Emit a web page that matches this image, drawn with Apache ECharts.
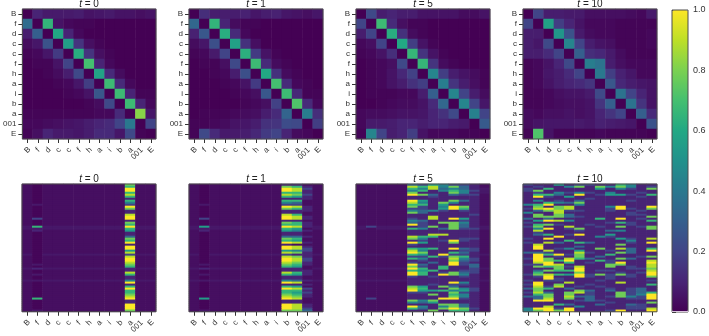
<!DOCTYPE html>
<html>
<head>
<meta charset="utf-8">
<style>
  html, body { margin: 0; padding: 0; background: #fff; }
  #chart { width: 709px; height: 336px; }
</style>
<script src="https://cdn.jsdelivr.net/npm/echarts@6/dist/echarts.min.js"></script>
</head>
<body>
<div id="chart"></div>
<script>
const tokens = ['B', 'f', 'd', 'c', 'c', 'f', 'h', 'a', 'i', 'b', 'a', '001', 'E']
const stepLabels = ['0', '1', '5', '10']
const colorbarTicks = [0, 0.2, 0.4, 0.6, 0.8, 1]
const viridis = ['#440154', '#482475', '#414487', '#355f8d', '#2a788e', '#21918c', '#22a884', '#44bf70', '#7ad151', '#bddf26', '#fde725']

// top row, one array per token row
const tokenT0 = [
  [0, .1, .07, .07, .07, .08, .05, .06, .07, .05, .05, .04, .05],
  [.35, 0, .65, .05, .02, .01, .01, 0, 0, 0, 0, 0, 0],
  [.08, .3, 0, .6, .1, .02, 0, 0, 0, 0, 0, 0, 0],
  [.03, .06, .25, 0, .55, .15, .04, .01, 0, 0, 0, 0, 0],
  [.01, .02, .06, .17, 0, .62, .15, .04, .01, 0, 0, 0, 0],
  [0, .01, .01, .05, .2, 0, .7, .1, .02, 0, 0, 0, 0],
  [0, 0, .01, .03, .08, .22, 0, .58, .12, .03, 0, 0, 0],
  [0, 0, 0, .01, .02, .06, .18, 0, .68, .12, .02, 0, 0],
  [0, 0, 0, 0, .01, .02, .05, .27, 0, .68, .1, .01, .01],
  [0, 0, 0, 0, 0, 0, .01, .03, .22, 0, .68, .1, .02],
  [.01, .01, .01, .01, .01, .01, .01, .02, .02, .12, 0, .82, .06],
  [.02, .02, .03, .04, .05, .06, .08, .1, .12, .2, .4, 0, .2],
  [.01, .04, .1, .07, .07, .06, .08, .12, .12, .06, .22, .01, 0],
]
const tokenT1 = [
  [0, .13, .08, .08, .08, .09, .06, .08, .09, .06, .05, .04, .06],
  [.33, 0, .65, .1, .03, .01, .01, 0, 0, 0, 0, 0, 0],
  [.09, .27, 0, .62, .12, .02, 0, 0, 0, 0, 0, 0, 0],
  [.03, .06, .24, 0, .57, .14, .04, 0, 0, 0, 0, 0, 0],
  [.01, .02, .07, .2, 0, .63, .17, .05, .01, 0, 0, 0, 0],
  [0, .01, .01, .04, .22, 0, .68, .12, .03, .01, 0, 0, 0],
  [0, 0, .01, .02, .08, .24, 0, .6, .14, .03, .01, 0, 0],
  [0, 0, 0, .01, .02, .05, .17, 0, .7, .12, .02, .01, 0],
  [0, 0, 0, 0, .01, .02, .04, .27, 0, .68, .11, .01, .01],
  [0, 0, 0, 0, 0, .01, .02, .04, .19, 0, .72, .12, .02],
  [0, .01, .01, .01, .02, .03, .04, .08, .12, .32, 0, .42, .13],
  [.01, .01, .02, .03, .05, .06, .08, .14, .15, .23, .22, 0, .18],
  [.01, .22, .12, .07, .07, .08, .11, .17, .2, .1, .03, .02, 0],
]
const tokenT5 = [
  [0, .22, .08, .1, .08, .08, .05, .05, .05, .05, .03, .03, .05],
  [.2, 0, .68, .12, .04, .01, .01, 0, 0, 0, 0, 0, 0],
  [.08, .2, 0, .62, .14, .03, .01, 0, 0, 0, 0, 0, 0],
  [.02, .04, .2, 0, .6, .18, .05, .01, 0, 0, 0, 0, 0],
  [.01, .02, .05, .13, 0, .66, .15, .05, .01, 0, 0, 0, 0],
  [0, .01, .02, .04, .22, 0, .66, .15, .03, .01, 0, 0, 0],
  [0, .01, .02, .05, .11, .19, 0, .45, .18, .08, .05, .03, .01],
  [0, .01, .02, .05, .08, .14, .18, 0, .42, .15, .08, .04, .01],
  [0, .01, .01, .01, .02, .02, .08, .3, 0, .45, .2, .08, .03],
  [0, 0, .01, .02, .03, .03, .05, .12, .33, 0, .45, .2, .06],
  [.02, .03, .03, .04, .05, .05, .06, .1, .14, .22, 0, .43, .2],
  [.02, .07, .07, .08, .1, .1, .08, .1, .1, .08, .07, 0, .28],
  [.01, .45, .2, .08, .1, .18, .05, .02, .02, .02, .01, .01, 0],
]
const tokenT10 = [
  [0, .2, .08, .08, .07, .07, .04, .04, .04, .04, .03, .02, .07],
  [.2, 0, .57, .18, .1, .05, .02, .02, .02, .01, .01, .01, .01],
  [.08, .08, 0, .52, .25, .07, .03, .02, .02, .01, .01, .01, .02],
  [.08, .06, .22, 0, .45, .2, .08, .05, .04, .01, .01, .01, .02],
  [.08, .08, .12, .2, 0, .3, .13, .11, .07, .03, .01, .01, .01],
  [.01, .02, .05, .1, .22, 0, .42, .38, .08, .04, .02, .02, .02],
  [.01, .02, .06, .08, .12, .2, 0, .4, .18, .09, .06, .02, .02],
  [.01, .02, .05, .08, .1, .12, .15, 0, .27, .11, .08, .06, .05],
  [.01, .01, .02, .04, .05, .05, .07, .22, 0, .38, .2, .1, .05],
  [.01, .01, .02, .03, .04, .04, .05, .15, .3, 0, .38, .15, .05],
  [.03, .02, .04, .04, .05, .04, .05, .1, .15, .2, 0, .3, .12],
  [.03, .05, .06, .06, .06, .07, .06, .09, .08, .07, .06, 0, .25],
  [.01, .72, .05, .01, .01, .01, .01, .02, .01, .01, .01, .01, 0],
]

// bottom row: one string per token column, 64 rows read top to bottom in groups of 8,
// each digit is a colour level, see cellLevels
const cellLevels = { '-': .015, 0: .04, x: .065, 1: .1, 2: .2, 3: .33, 4: .44, 5: .55, 6: .66, 7: .78, 8: .89, 9: 1 }
const quiet = '00000000 00000000 00000xx0 00000000 000x0000 00x00000 x0000000 00000000'

const topicsT0 = [
  quiet,
  '-------- --x----- -2---6x1 -------- -------- x-1--x-- x------- -6-----x',
  quiet, quiet, quiet, quiet, quiet, quiet, quiet, quiet,
  '76996861 64297118 99176965 11376919 95828998 76118611 49169667 89119997',
  quiet, quiet,
]
const topicsT1 = [
  quiet,
  '-------- --x----- -2---5x1 -------- -------- x-1--x-- x------- -5-----x',
  quiet, quiet, quiet, quiet, quiet, quiet, quiet,
  '17996861 64297118 99176965 11376919 95828998 76118611 49169667 89119997',
  '16886751 63286116 88166854 11365808 84717887 65116511 38158656 78118887',
  '01211211 00011100 11011101 00100101 22111221 10011100 10102121 10001123',
  quiet,
]
const topicsT5 = [
  quiet,
  '00000000 00000000 00000200 00000000 000x0000 00x00000 x0000000 02000000',
  quiet, quiet, quiet,
  '38647911 98672471 12439161 11871921 68962612 97969921 11178921 11741961',
  '26461711 54622331 11322241 11642511 54752421 32656611 11156521 11431431',
  '58811321 11111411 88111711 18611111 61116113 11161121 11211517 11751117',
  '44341111 17545211 11171131 18112111 11192111 16612911 11171611 19117471',
  '27467311 74199111 19177771 11119711 91627879 91117711 19237476 79117796',
  '23344211 31176211 15243321 11122111 32326432 21123421 14214524 42113376',
  '11121211 11111112 11111121 11121111 22111221 33222111 11112211 11111121',
  '00xxx000 00000000 00000xx0 00000000 000x0000 00x00000 x0000000 00000000',
]
const topicsT10 = [
  '21221111 11412141 13121211 11121211 11311211 21111211 21213121 31111144',
  '12172691 41678317 71516748 23111189 91399998 27136721 19987786 33911197',
  '11611621 16919711 73917191 16191811 18261779 96171899 21126137 78911899',
  '51114311 24177887 71812111 11911311 21192161 87761612 21781111 11116127',
  '14112151 13188213 31411821 12116111 41121896 12161511 18113177 87113199',
  '27114911 37411211 21111172 19111613 15877611 18997991 11121781 31211411',
  '21112112 11111111 11112111 11111311 11211312 11111221 11211322 33311111',
  '17511211 11111111 16111211 11411111 71113161 11121711 21121111 11213111',
  '14114511 11142211 11121113 15211111 12161122 77121222 11112311 21121112',
  '67411511 11199111 19161714 11151171 81711719 71112711 18111177 71111119',
  '44211211 21112122 11122111 11124211 33311311 12211221 11112222 42113221',
  '11112121 11111212 12111211 11111111 11112111 11212111 11113334 22112221',
  '12711611 11197111 71611771 11181911 69117189 88789971 21611169 99171189',
]

const tokenMatrices = [tokenT0, tokenT1, tokenT5, tokenT10]
const topicMatrices = [topicsT0, topicsT1, topicsT5, topicsT10]

const panelLefts = [22, 189, 356, 523]
const panelWidth = 134
const font = "'Liberation Sans', Arial, sans-serif"

function tokenCells(matrix) {
  const cells = []
  matrix.forEach((row, y) => row.forEach((v, x) => cells.push([x, y, v])))
  return cells
}

function topicCells(columns) {
  const cells = []
  columns.forEach((col, x) => {
    col.replace(/ /g, '').split('').forEach((ch, y) => cells.push([x, y, cellLevels[ch]]))
  })
  return cells
}

const tokenLabel = {
  fontSize: 8,
  fontFamily: font,
  color: '#333',
  rotate: 45,
  align: 'center',
  verticalAlign: 'middle',
  margin: 11,
  interval: 0,
  formatter: (v) => (v.length > 1 ? `{long|${v}}` : v),
  rich: { long: { fontSize: 8, fontFamily: font, color: '#333', padding: [0, 10, 0, 0] } },
}

const grids = []
const xAxes = []
const yAxes = []
const series = []
const titles = []

function addPanel(left, top, height, cells, rowLabels, title) {
  const index = grids.length
  grids.push({ left, top, width: panelWidth, height, show: true, borderColor: '#4d4d4d', borderWidth: 1, backgroundColor: 'transparent', z: 5 })
  xAxes.push({
    type: 'category',
    gridIndex: index,
    data: tokens,
    axisLine: { show: false },
    axisTick: { show: true, alignWithLabel: true, length: 4, lineStyle: { color: '#333', width: 1 } },
    axisLabel: tokenLabel,
    splitLine: { show: false },
  })
  yAxes.push({
    type: 'category',
    gridIndex: index,
    inverse: true,
    data: rowLabels || Array.from({ length: 64 }, (_, i) => String(i)),
    axisLine: { show: false },
    axisTick: { show: !!rowLabels, alignWithLabel: true, length: 4, lineStyle: { color: '#333', width: 1 } },
    axisLabel: { show: !!rowLabels, fontSize: 8, fontFamily: font, color: '#333', margin: 6, interval: 0 },
    splitLine: { show: false },
  })
  series.push({ type: 'heatmap', xAxisIndex: index, yAxisIndex: index, data: cells, progressive: 0, animation: false })
  titles.push({
    text: `{i|t} = ${title}`,
    left: left + panelWidth / 2,
    top: top - 10,
    textAlign: 'center',
    padding: 0,
    textStyle: {
      fontSize: 10,
      fontWeight: 'normal',
      fontFamily: font,
      color: '#222',
      rich: { i: { fontSize: 10, fontStyle: 'italic', fontFamily: font, color: '#222' } },
    },
  })
}

panelLefts.forEach((left, i) => addPanel(left, 9, 130, tokenCells(tokenMatrices[i]), tokens, stepLabels[i]))
panelLefts.forEach((left, i) => addPanel(left, 184, 128, topicCells(topicMatrices[i]), null, stepLabels[i]))

// colorbar: gradient from visualMap, ticks from a value axis on top of it
const barIndex = grids.length
grids.push({ left: 672, top: 10, width: 16, height: 302, show: true, borderColor: '#4d4d4d', borderWidth: 1, backgroundColor: 'transparent', z: 5 })
xAxes.push({
  type: 'value',
  gridIndex: barIndex,
  min: 0,
  max: 1,
  offset: -1,
  axisLine: { show: true, lineStyle: { color: '#d8c4dc', width: 1 } },
  axisTick: { show: false },
  axisLabel: { show: false },
  splitLine: { show: false },
  z: 6,
})
yAxes.push({
  type: 'value',
  gridIndex: barIndex,
  position: 'right',
  min: colorbarTicks[0],
  max: colorbarTicks[colorbarTicks.length - 1],
  interval: 0.2,
  axisLine: { show: false },
  axisTick: { show: true, length: 4, lineStyle: { color: '#333', width: 1 } },
  axisLabel: { fontSize: 9, fontFamily: font, color: '#333', margin: 5, formatter: (v) => v.toFixed(1) },
  splitLine: { show: false },
})

const chart = echarts.init(document.getElementById('chart'), null, { renderer: 'canvas' })
chart.setOption({
  animation: false,
  backgroundColor: '#fff',
  title: titles,
  tooltip: { show: false },
  grid: grids,
  xAxis: xAxes,
  yAxis: yAxes,
  visualMap: {
    type: 'continuous',
    min: 0,
    max: 1,
    seriesIndex: series.map((_, i) => i),
    left: 672,
    top: 10,
    itemWidth: 16,
    itemHeight: 302,
    padding: 0,
    calculable: false,
    hoverLink: false,
    text: null,
    inRange: { color: viridis },
  },
  series,
})
</script>
</body>
</html>
